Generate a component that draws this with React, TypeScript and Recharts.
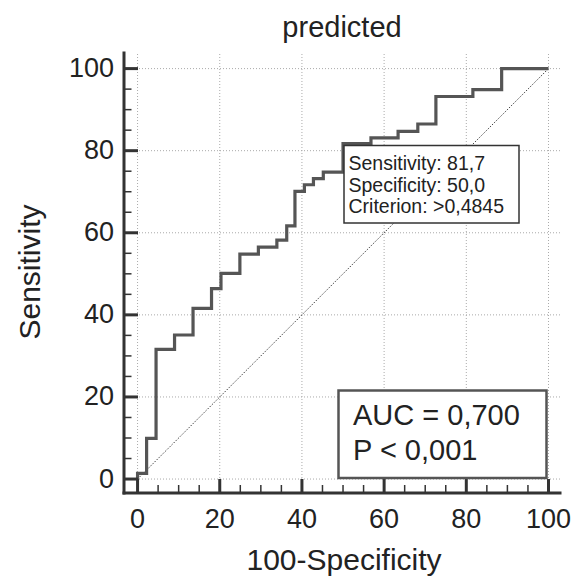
import { LineChart, Line, XAxis, YAxis, ReferenceLine } from "recharts";

// ROC curve points (100-Specificity, Sensitivity), top of each vertical step
const fpr = [0, 0, 2.2, 4.5, 9.0, 13.5, 18.0, 20.3, 24.9, 29.4, 33.9, 36.3, 38.3, 40.6, 42.8, 45.2, 50.0, 56.8, 63.4, 68.2, 72.6, 81.6, 88.6, 100];
const tpr = [0, 1.4, 9.9, 31.6, 35.1, 41.6, 46.4, 50.1, 54.8, 56.5, 58.2, 61.7, 70.1, 71.7, 73.2, 74.8, 81.7, 83.1, 84.7, 86.5, 93.2, 94.9, 100, 100];

const majorTicks = [0, 20, 40, 60, 80, 100];
const allTicks = [0, 5, 10, 15, 20, 25, 30, 35, 40, 45, 50, 55, 60, 65, 70, 75, 80, 85, 90, 95, 100];

const rocData = fpr.map((x, i) => ({ fpr: x, tpr: tpr[i] }));

const FONT = "'Liberation Sans', Arial, sans-serif";
const INK = "#222";
const AXIS = "#333";

function YTick({ x, y, payload }: any) {
  const major = majorTicks.includes(payload.value);
  return (
    <g>
      <line x1={x} x2={x + (major ? 14 : 7.5)} y1={y} y2={y} stroke={AXIS} strokeWidth={major ? 3 : 1.5} />
      {major && (
        <text x={x - 10} y={y + 8.5} textAnchor="end" fontSize={27} fontFamily={FONT} fill={INK}>
          {payload.value}
        </text>
      )}
    </g>
  );
}

function XTick({ x, y, payload }: any) {
  const major = majorTicks.includes(payload.value);
  return (
    <g>
      <line x1={x} x2={x} y1={y} y2={y - (major ? 14 : 8)} stroke={AXIS} strokeWidth={major ? 3 : 1.5} />
      {major && (
        <text x={x} y={y + 35} textAnchor="middle" fontSize={27} fontFamily={FONT} fill={INK}>
          {payload.value}
        </text>
      )}
    </g>
  );
}

export default function App() {
  return (
    <div style={{ position: "absolute", left: 0, top: 0, width: 575, height: 576, background: "#fff" }}>
      <LineChart width={575} height={576} data={rocData} margin={{ top: 53, right: 15, bottom: 0, left: 0 }}>
        {majorTicks.map((v) => (
          <ReferenceLine key={"gx" + v} x={v} stroke="#aaa" strokeDasharray="1 2" strokeWidth={1} />
        ))}
        {majorTicks.map((v) => (
          <ReferenceLine key={"gy" + v} y={v} stroke="#aaa" strokeDasharray="1 2" strokeWidth={1} />
        ))}
        <ReferenceLine
          segment={[{ x: 0, y: 0 }, { x: 100, y: 100 }]}
          stroke="#444"
          strokeDasharray="1.5 1.5"
          strokeWidth={1}
        />
        <XAxis
          type="number"
          dataKey="fpr"
          domain={[-3.3, 102.8]}
          allowDataOverflow
          ticks={allTicks}
          interval={0}
          tickSize={0}
          tickMargin={0}
          tickLine={false}
          height={83}
          axisLine={{ stroke: AXIS, strokeWidth: 3, strokeLinecap: "square" }}
          tick={<XTick />}
        />
        <YAxis
          type="number"
          domain={[-3.4, 103.8]}
          allowDataOverflow
          ticks={allTicks}
          interval={0}
          tickSize={0}
          tickMargin={0}
          tickLine={false}
          width={124}
          axisLine={{ stroke: AXIS, strokeWidth: 3, strokeLinecap: "square" }}
          tick={<YTick />}
        />
        <Line
          type="stepAfter"
          dataKey="tpr"
          stroke="#555"
          strokeWidth={3.2}
          dot={false}
          activeDot={false}
          isAnimationActive={false}
        />
      </LineChart>
      <svg width={575} height={576} style={{ position: "absolute", left: 0, top: 0, pointerEvents: "none" }}>
        <text x={342} y={37} textAnchor="middle" fontSize={29} fontFamily={FONT} fill={INK}>
          predicted
        </text>
        <text x={344} y={570} textAnchor="middle" fontSize={30} fontFamily={FONT} fill={INK}>
          100-Specificity
        </text>
        <text
          x={40}
          y={272}
          transform="rotate(-90 40 272)"
          textAnchor="middle"
          fontSize={30}
          fontFamily={FONT}
          fill={INK}
        >
          Sensitivity
        </text>

        <rect x={344} y={145.5} width={175} height={77.5} fill="#fff" stroke={AXIS} strokeWidth={1.5} />
        <text x={348.5} y={170} fontSize={19.5} fontFamily={FONT} fill={INK}>Sensitivity: 81,7</text>
        <text x={348.5} y={191.7} fontSize={19.5} fontFamily={FONT} fill={INK}>Specificity: 50,0</text>
        <text x={348.5} y={213.3} fontSize={19.5} fontFamily={FONT} fill={INK}>Criterion: &gt;0,4845</text>

        <rect x={338.5} y={390.5} width={208} height={87.5} fill="#fff" stroke="#555" strokeWidth={2.5} />
        <text x={353} y={425} fontSize={29} fontFamily={FONT} fill={INK}>AUC = 0,700</text>
        <text x={353} y={460} fontSize={29} fontFamily={FONT} fill={INK}>P &lt; 0,001</text>
      </svg>
    </div>
  );
}
